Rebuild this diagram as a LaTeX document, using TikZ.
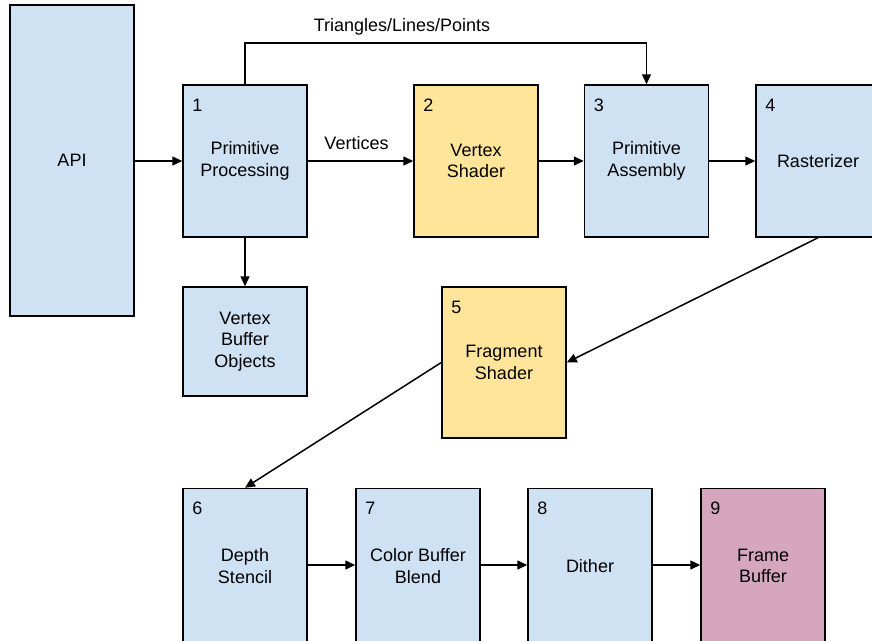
\documentclass[tikz,border=0pt]{standalone}
\usepackage{fontspec}
\setmainfont{Liberation Sans}
\usetikzlibrary{arrows.meta}
\definecolor{stageblue}{HTML}{CFE2F3}
\definecolor{shaderyellow}{HTML}{FFE599}
\definecolor{fbpink}{HTML}{D5A6BD}
\tikzset{
  box/.style={draw=black, line width=1.5pt, rectangle, minimum width=124pt,
    minimum height=152pt, inner sep=0pt, align=center,
    font=\fontsize{18}{21.7}\selectfont, fill=stageblue},
  shader/.style={box, fill=shaderyellow},
  fbbox/.style={box, fill=fbpink},
  num/.style={anchor=base west, inner sep=0pt, font=\fontsize{18}{21.7}\selectfont},
  lbl/.style={anchor=base, inner sep=0pt, font=\fontsize{18}{21.7}\selectfont},
  arr/.style={line width=1.5pt, -{Triangle[length=10pt,width=9pt]}},
}
\begin{document}
\begin{tikzpicture}[x=1pt,y=-1pt]
\useasboundingbox (0,0) rectangle (872,640);

% top row
\node[box, minimum height=311pt] (api) at (72,160.5) {API};
\node[box] (b1) at (245,161) {Primitive\\Processing};
\node[shader] (b2) at (476,161) {Vertex\\Shader};
\node[box] (b3) at (646.5,161) {Primitive\\Assembly};
\node[box] (b4) at (818,161) {Rasterizer};

% middle row
\node[box, minimum height=109pt] (vbo) at (245,341.5) {Vertex\\Buffer\\Objects};
\node[shader, minimum height=151pt] (b5) at (504,362.5) {Fragment\\Shader};

% bottom row (runs past the lower edge)
\node[box, minimum height=155pt] (b6) at (245,566) {Depth\\Stencil};
\node[box, minimum height=155pt] (b7) at (418,566) {Color Buffer\\Blend};
\node[box, minimum height=155pt] (b8) at (590,566) {Dither};
\node[fbbox, minimum height=155pt] (b9) at (763,566) {Frame\\Buffer};

% stage numbers
\foreach \b/\n in {b1/1,b2/2,b3/3,b4/4,b5/5,b6/6,b7/7,b8/8,b9/9}
  \node[num] (n\n) at ([xshift=10pt,yshift=-27pt]\b.north west) {\n};

% connectors
\coordinate (top) at (0,43);
\draw[arr] (api.east |- b1.west) -- (b1.west);
\draw[arr] (b1.east) -- node[lbl, above=12pt, anchor=base, xshift=-4pt] (vlab) {Vertices} (b2.west);
\draw[arr] (b2.east) -- (b3.west);
\draw[arr] (b3.east) -- (b4.west);
\draw[arr] (b1.north) -- (b1.north |- top) -| (b3.north);
\node[lbl] (tlab) at (402,31) {Triangles/Lines/Points};
\draw[arr] (b1.south) -- (vbo.north);
\draw[arr] (b4.south) -- (b5.east);
\draw[arr] (b5.west) -- (b6.north);
\draw[arr] ([yshift=1pt]b6.east) -- ([yshift=1pt]b7.west);
\draw[arr] ([yshift=1pt]b7.east) -- ([yshift=1pt]b8.west);
\draw[arr] ([yshift=1pt]b8.east) -- ([yshift=1pt]b9.west);
\end{tikzpicture}
\end{document}
